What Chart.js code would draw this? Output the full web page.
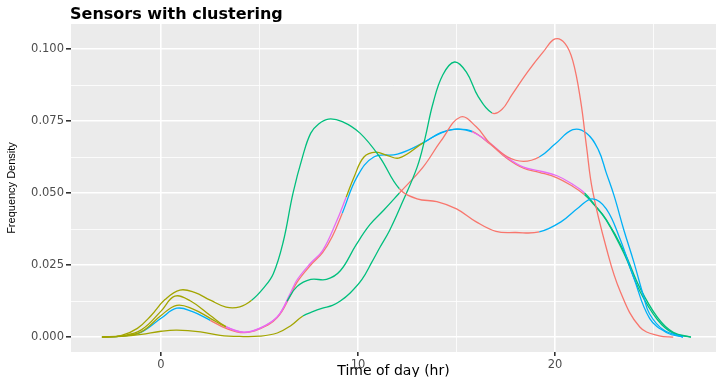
<!DOCTYPE html>
<html lang="en">
<head>
    <meta charset="UTF-8">
    <title>Sensors with clustering</title>
    <style>
        body {
            margin: 0;
            background-color: #ffffff;
        }
        #chart {
            display: block;
        }
    </style>
    <script src="https://cdn.jsdelivr.net/npm/chart.js"></script>
</head>
<body>
    <canvas id="chart" width="717" height="377"></canvas>
    <script>
        // density curves (x = hour of day, y = density)
        const aX = [-3.0, -2.0, -1.2, -0.5, 0.2, 0.96, 1.7, 2.5, 3.3, 4.0, 4.6, 5.2, 5.7, 6.2, 6.7, 7.2, 7.6, 8.0, 8.5, 9.2, 10.1, 11.1, 12.1, 13.0, 14.0, 15.0, 16.0, 17.0, 18.0, 19.2, 20.3, 21.2, 21.9, 22.6, 23.3, 24.0, 24.8, 25.7, 26.5];
        const aY = [0, 0.0006, 0.003, 0.0075, 0.013, 0.0163, 0.0155, 0.0128, 0.0104, 0.0105, 0.0128, 0.017, 0.022, 0.033, 0.050, 0.063, 0.0708, 0.074, 0.0757, 0.0748, 0.0708, 0.0625, 0.0515, 0.048, 0.047, 0.0445, 0.040, 0.0367, 0.0363, 0.0365, 0.040, 0.045, 0.048, 0.0445, 0.034, 0.0205, 0.0065, 0.0014, 0];
        const aCuts = [4.6, 12.1, 19.2];
        const aClusters = ['O', 'G', 'R', 'B'];

        const bX = [-3.0, -2.0, -1.0, 0.0, 0.8, 2.0, 3.0, 4.0, 5.0, 5.9, 6.6, 7.2, 7.7, 8.2, 8.7, 9.1, 9.6, 10.2, 10.7, 11.1, 11.6, 12.2, 13.0, 13.4, 13.8, 14.3, 14.9, 15.5, 16.1, 16.8, 17.3, 17.8, 18.6, 19.4, 20.0, 20.5, 20.9, 21.3, 21.6, 21.9, 22.6, 23.3, 24.3, 25.3, 26.0];
        const bY = [0, 0.0002, 0.0009, 0.002, 0.0024, 0.0018, 0.0006, 0.0002, 0.0003, 0.0014, 0.004, 0.0073, 0.0088, 0.010, 0.011, 0.0125, 0.0153, 0.020, 0.026, 0.031, 0.037, 0.046, 0.059, 0.069, 0.081, 0.091, 0.0955, 0.092, 0.0835, 0.0778, 0.079, 0.084, 0.092, 0.099, 0.1035, 0.102, 0.096, 0.082, 0.066, 0.051, 0.031, 0.016, 0.0035, 0.0004, 0];
        const bCuts = [7.2, 16.8];
        const bClusters = ['O', 'G', 'R'];

        const cX = [-3.0, -2.0, -1.0, 0.0, 0.8, 1.6, 2.5, 3.3, 4.2, 5.0, 5.9, 6.4, 6.9, 7.6, 8.4, 9.1, 9.9, 10.6, 11.3, 12.1, 13.3, 14.2, 15.2, 16.0, 16.7, 17.6, 18.4, 19.2, 20.0, 20.9, 21.6, 22.2, 22.6, 23.0, 23.5, 24.0, 24.5, 24.8, 25.5, 26.5];
        const cY = [0, 0.0003, 0.0018, 0.0075, 0.011, 0.0098, 0.0065, 0.0035, 0.0016, 0.003, 0.007, 0.0125, 0.0175, 0.020, 0.020, 0.023, 0.032, 0.039, 0.044, 0.050, 0.059, 0.068, 0.0764, 0.073, 0.0673, 0.0625, 0.061, 0.0625, 0.067, 0.072, 0.0708, 0.065, 0.057, 0.049, 0.037, 0.026, 0.014, 0.008, 0.0025, 0];
        const cCuts = [2.8, 6.4, 12.1, 19.2];
        const cClusters = ['O', 'P', 'G', 'R', 'B'];

        const dX = [-3.0, -2.0, -1.0, 0.0, 0.7, 1.5, 2.5, 3.3, 4.2, 5.0, 5.9, 6.55, 6.9, 7.6, 8.2, 8.9, 9.4, 9.8, 10.3, 10.9, 11.5, 12.1, 13.3, 14.2, 15.0, 15.8, 16.7, 17.6, 18.4, 19.2, 20.1, 20.9, 21.5, 22.0, 22.6, 23.5, 24.3, 25.2, 26.0, 26.9];
        const dY = [0, 0.0004, 0.0025, 0.009, 0.0142, 0.0125, 0.0075, 0.0036, 0.0017, 0.003, 0.007, 0.015, 0.0198, 0.0257, 0.030, 0.040, 0.0486, 0.0556, 0.0625, 0.0642, 0.063, 0.0622, 0.0674, 0.0708, 0.0722, 0.0712, 0.0673, 0.0622, 0.059, 0.0577, 0.056, 0.053, 0.050, 0.046, 0.0406, 0.029, 0.016, 0.006, 0.0013, 0];
        const dCuts = [2.8, 9.1, 13.3, 15.3, 21.1];
        const dClusters = ['O', 'P', 'O', 'B', 'P', 'G'];

        const eX = [-3.0, -2.0, -1.0, 0.0, 0.8, 1.6, 2.5, 3.3, 4.2, 5.0, 5.9, 6.55, 6.9, 7.6, 8.2, 8.7, 9.2, 9.95, 10.8, 12.0, 13.3, 14.2, 15.0, 15.8, 16.7, 17.6, 18.4, 19.2, 20.1, 20.9, 21.5, 22.0, 22.6, 23.5, 24.3, 25.2, 26.0, 26.9];
        const eY = [0, 0.0003, 0.0017, 0.0065, 0.010, 0.0088, 0.0058, 0.003, 0.0015, 0.0028, 0.0068, 0.0142, 0.019, 0.025, 0.0293, 0.035, 0.043, 0.0556, 0.0625, 0.0635, 0.0674, 0.071, 0.0722, 0.0714, 0.067, 0.0618, 0.0586, 0.0572, 0.0553, 0.0523, 0.0494, 0.0458, 0.0408, 0.0298, 0.0172, 0.0068, 0.0016, 0];
        const eCuts = [2.3, 9.2, 15.3, 21.1];
        const eClusters = ['B', 'R', 'B', 'R', 'G'];

        const xGridValues = [0, 5, 10, 15, 20, 25];
        const yGridValues = [0, 0.0125, 0.025, 0.0375, 0.05, 0.0625, 0.075, 0.0875, 0.1];

        const clusterColors = {
            R: '#F8766D',
            O: '#A3A500',
            G: '#00BF7D',
            B: '#00B0F6',
            P: '#E76BF3'
        };

        function clusterAt(x, cuts, clusters) {
            let i = 0;
            while (i < cuts.length && x >= cuts[i] - 1e-9) i++;
            return clusters[i];
        }

        function curve(xs, ys, cuts, clusters) {
            return {
                data: xs.map((x, i) => ({ x: x, y: ys[i] })),
                borderWidth: 1.3,
                pointRadius: 0,
                fill: false,
                tension: 0.4,
                borderColor: clusterColors[clusters[0]],
                segment: {
                    borderColor: ctx => clusterColors[clusterAt(xs[ctx.p0DataIndex], cuts, clusters)]
                }
            };
        }

        const panelBackground = {
            id: 'panelBackground',
            beforeDraw(chart) {
                const { ctx, chartArea } = chart;
                ctx.save();
                ctx.fillStyle = '#EBEBEB';
                ctx.fillRect(chartArea.left, chartArea.top, chartArea.width, chartArea.height);
                ctx.restore();
            },
            afterDraw(chart) {
                const ctx = chart.ctx;
                ctx.save();
                ctx.fillStyle = '#000000';
                ctx.font = 'bold 16px "DejaVu Sans"';
                ctx.textBaseline = 'alphabetic';
                ctx.fillText('Sensors with clustering', 70, 19);
                ctx.restore();
            }
        };

        const isMajor = (v, step) => Math.abs(v / step - Math.round(v / step)) < 1e-6;

        new Chart(document.getElementById('chart'), {
            type: 'line',
            data: {
                datasets: [
                    curve(aX, aY, aCuts, aClusters),
                    curve(bX, bY, bCuts, bClusters),
                    curve(cX, cY, cCuts, cClusters),
                    curve(dX, dY, dCuts, dClusters),
                    curve(eX, eY, eCuts, eClusters)
                ]
            },
            options: {
                responsive: false,
                animation: false,
                layout: {
                    padding: { top: 24, right: 1, left: 0, bottom: 0 }
                },
                plugins: {
                    legend: { display: false },
                    tooltip: { enabled: false }
                },
                scales: {
                    x: {
                        type: 'linear',
                        min: -4.57,
                        max: 28.17,
                        afterBuildTicks: axis => {
                            axis.ticks = xGridValues.map(v => ({ value: v }));
                        },
                        afterFit: axis => {
                            axis.height = 25;
                        },
                        border: { display: false },
                        grid: {
                            color: '#FFFFFF',
                            lineWidth: ctx => isMajor(ctx.tick.value, 10) ? 1.6 : 0.8,
                            tickColor: ctx => isMajor(ctx.tick.value, 10) ? '#333333' : 'rgba(0,0,0,0)',
                            tickLength: 4
                        },
                        ticks: {
                            autoSkip: false,
                            maxRotation: 0,
                            padding: 2,
                            color: '#4D4D4D',
                            font: { family: '"DejaVu Sans"', size: 11.5 },
                            callback: v => isMajor(v, 10) ? String(v) : ''
                        },
                        title: {
                            display: true,
                            text: 'Time of day (hr)',
                            color: '#000000',
                            font: { family: '"DejaVu Sans"', size: 14, lineHeight: 0.8 },
                            padding: 0
                        }
                    },
                    y: {
                        min: -0.0052,
                        max: 0.1087,
                        afterBuildTicks: axis => {
                            axis.ticks = yGridValues.map(v => ({ value: v }));
                        },
                        afterFit: axis => {
                            axis.width = 71;
                        },
                        border: { display: false },
                        grid: {
                            color: '#FFFFFF',
                            lineWidth: ctx => isMajor(ctx.tick.value, 0.025) ? 1.6 : 0.8,
                            tickColor: ctx => isMajor(ctx.tick.value, 0.025) ? '#333333' : 'rgba(0,0,0,0)',
                            tickLength: 5
                        },
                        ticks: {
                            autoSkip: false,
                            padding: 2,
                            color: '#4D4D4D',
                            font: { family: '"DejaVu Sans"', size: 11.5 },
                            callback: v => isMajor(v, 0.025) ? v.toFixed(3) : ''
                        },
                        title: {
                            display: true,
                            text: 'Frequency Density',
                            color: '#000000',
                            font: { family: '"Liberation Sans"', size: 11 },
                            padding: { top: 5, bottom: 0 }
                        }
                    }
                }
            },
            plugins: [panelBackground]
        });
    </script>
</body>
</html>
